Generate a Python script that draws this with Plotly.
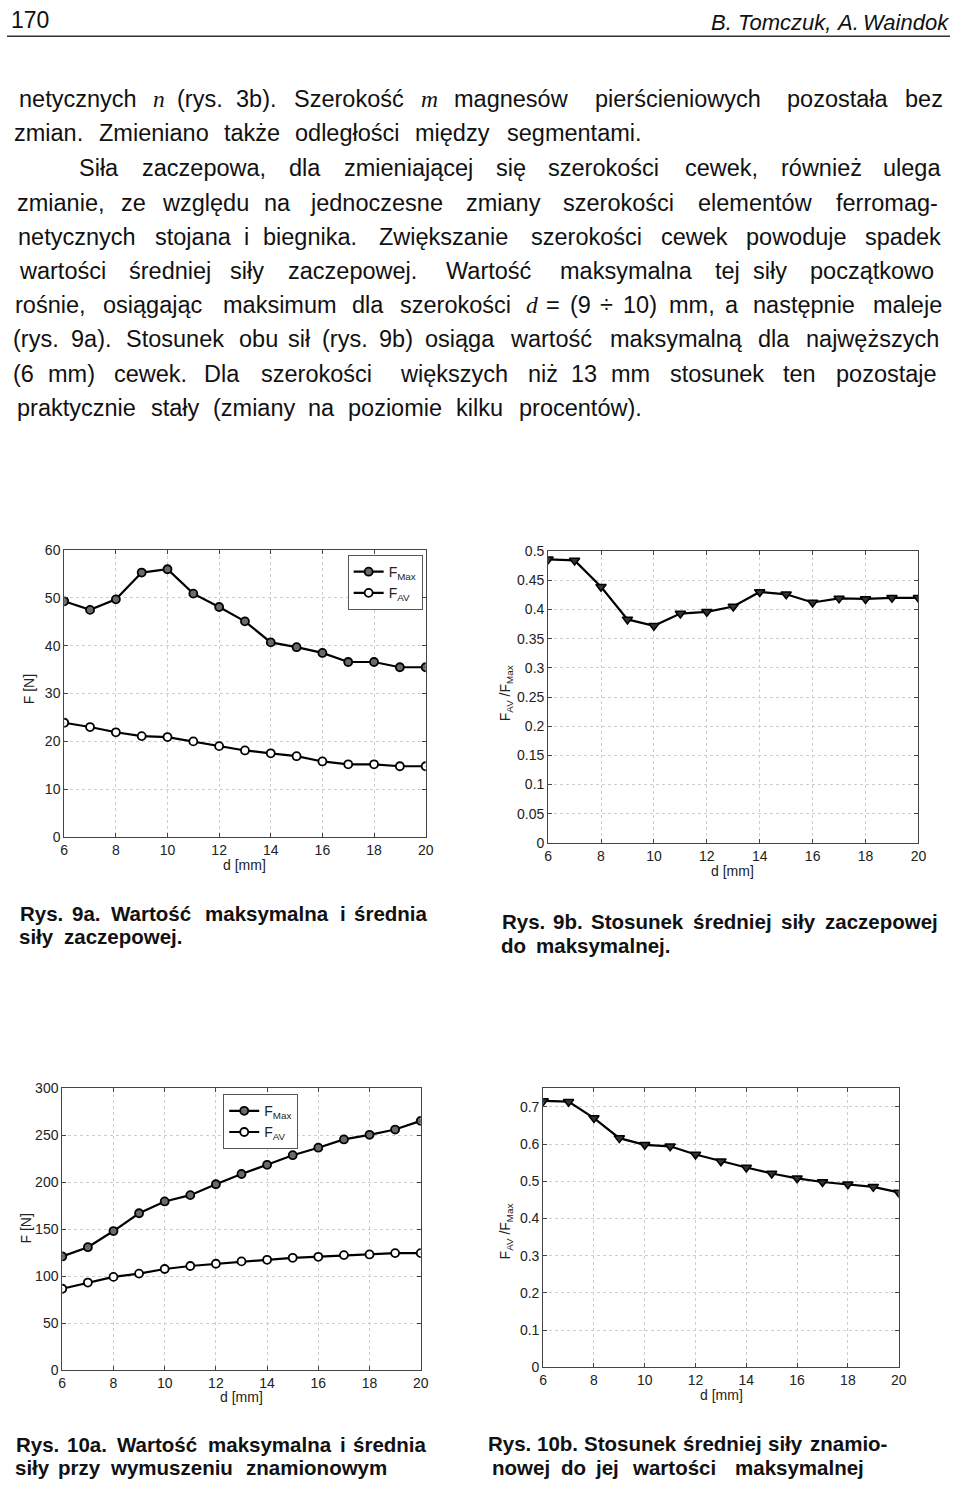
import plotly.graph_objects as go

W, H = 960, 1491

# ---------------- data ----------------
d_mm = [6, 7, 8, 9, 10, 11, 12, 13, 14, 15, 16, 17, 18, 19, 20]
f_max_9a = [49.3, 47.5, 49.7, 55.3, 56.0, 50.9, 48.1, 45.1, 40.7, 39.7, 38.5, 36.6, 36.6, 35.5, 35.5]
f_av_9a = [23.9, 23.0, 21.9, 21.1, 20.9, 20.0, 19.0, 18.1, 17.5, 16.9, 15.8, 15.2, 15.2, 14.8, 14.8]
ratio_9b = [0.486, 0.484, 0.439, 0.383, 0.372, 0.393, 0.396, 0.405, 0.430, 0.426, 0.412, 0.419, 0.418, 0.420, 0.420]
f_max_10a = [121.1, 130.9, 148.1, 167.0, 179.6, 186.3, 197.9, 208.8, 218.6, 228.8, 236.8, 245.6, 250.5, 256.1, 265.3]
f_av_10a = [86.7, 93.3, 99.3, 102.8, 107.7, 110.9, 113.3, 115.8, 117.5, 119.6, 120.7, 122.5, 123.2, 124.6, 124.6]
ratio_10b = [0.716, 0.714, 0.670, 0.616, 0.598, 0.594, 0.572, 0.554, 0.537, 0.521, 0.508, 0.498, 0.492, 0.485, 0.470]

x_ticks = [6, 8, 10, 12, 14, 16, 18, 20]
legend_labels = ["F<sub>Max</sub>", "F<sub>AV</sub>"]

FONT = "Liberation Sans, Arial, sans-serif"
SERIF = "Liberation Serif, Times New Roman, serif"

# ---------------- approximate glyph widths (em) ----------------
REG = {}
def _set(tbl, chars, w):
    for c in chars:
        tbl[c] = w
_set(REG, "abdeghnopqu0123456789ąęńóL", 0.556)
_set(REG, "cksvxyzśćżźJ", 0.5)
_set(REG, "ft .,/:;!I", 0.278)
_set(REG, "ijlł", 0.222)
_set(REG, "r()-", 0.333)
_set(REG, "mM", 0.833)
_set(REG, "wCDHNRUĆ", 0.722)
_set(REG, "ABEKPSVXYŚ", 0.667)
_set(REG, "FTZŻ", 0.611)
_set(REG, "GOQ", 0.778)
_set(REG, "W", 0.944)
_set(REG, "=+", 0.584)
_set(REG, "÷", 0.549)
BOLD = {}
_set(BOLD, "acekrsvxyśćąęż0123456789J", 0.556)
_set(BOLD, "bdghnopquńó", 0.611)
_set(BOLD, "ft", 0.333)
_set(BOLD, "ijlł .,", 0.278)
_set(BOLD, "r-", 0.389)
_set(BOLD, "z", 0.5)
_set(BOLD, "mM", 0.889)
_set(BOLD, "w", 0.778)
_set(BOLD, "RCDHNU", 0.722)
_set(BOLD, "SABEKPV", 0.667)
_set(BOLD, "W", 0.944)


def measure(word, bold=False, italic_serif=False):
    if italic_serif:
        return sum(0.72 if c == "m" else 0.5 for c in word)
    tbl = BOLD if bold else REG
    return sum(tbl.get(c, 0.556) for c in word)


annotations = []


def place_line(words, x0, x1, y, size, bold=False, italic=False, color="#111"):
    if isinstance(words, str):
        words = words.split()
    items = []
    for w in words:
        if isinstance(w, tuple):
            items.append((w[0], True))
        else:
            items.append((w, False))
    widths = [measure(t, bold, it) for t, it in items]
    total = sum(widths)
    n = len(items)
    space = 0.278
    em = (x1 - x0) / (total + space * (n - 1)) if n > 1 else size
    gap = space * em
    x = x0
    for (t, it), wd in zip(items, widths):
        if it:
            txt = "<i>" + t + "</i>"
            fam = SERIF
        else:
            txt = ("<b>" + t + "</b>") if bold else (("<i>" + t + "</i>") if italic else t)
            fam = FONT
        # centre each word inside its slot so that rounding errors spread evenly
        annotations.append(dict(
            x=(x + wd * em / 2) / W, y=1 - y / H, xref="paper", yref="paper",
            xanchor="center", yanchor="middle", showarrow=False,
            text=txt, font=dict(family=fam, size=size, color=color),
            borderpad=0,
        ))
        x += wd * em + gap


BODY = 23.5
body_lines = [
    (7, 954, 92.0, ["netycznych", ("n",), "(rys.", "3b).", "Szerokość", ("m",), "magnesów",
                    "pierścieniowych", "pozostała", "bez"]),
    (7, 652, 126.7, "zmian. Zmieniano także odległości między segmentami."),
    (72, 954, 162.0, "Siła zaczepowa, dla zmieniającej się szerokości cewek, również ulega"),
    (7, 954, 196.7, "zmianie, ze względu na jednoczesne zmiany szerokości elementów ferromag-"),
    (7, 954, 231.5, "netycznych stojana i biegnika. Zwiększanie szerokości cewek powoduje spadek"),
    (7, 954, 266.0, "wartości średniej siły zaczepowej. Wartość maksymalna tej siły początkowo"),
    (7, 954, 300.5, ["rośnie,", "osiągając", "maksimum", "dla", "szerokości", ("d",), "=", "(9", "÷",
                     "10)", "mm,", "a", "następnie", "maleje"]),
    (7, 954, 335.0, "(rys. 9a). Stosunek obu sił (rys. 9b) osiąga wartość maksymalną dla najwęższych"),
    (7, 954, 369.5, "(6 mm) cewek. Dla szerokości większych niż 13 mm stosunek ten pozostaje"),
    (7, 652, 404.0, "praktycznie stały (zmiany na poziomie kilku procentów)."),
]
for x0, x1, y, words in body_lines:
    place_line(words, x0, x1, y, BODY)

# header
annotations.append(dict(x=5 / W, y=1 - 12 / H, xref="paper", yref="paper", xanchor="left",
                        yanchor="middle", showarrow=False, text="170",
                        font=dict(family=FONT, size=23, color="#111")))
place_line("B. Tomczuk, A. Waindok", 716, 956, 15, 22, italic=True)

# captions
CAP = 20.5
place_line("Rys. 9a. Wartość maksymalna i  średnia", 14, 432, 915, CAP, bold=True)
place_line("siły zaczepowej.", 14, 185, 939, CAP, bold=True)
place_line("Rys. 9b. Stosunek średniej siły zaczepowej", 503, 948, 923, CAP, bold=True)
place_line("do maksymalnej.", 503, 677, 948, CAP, bold=True)
place_line("Rys. 10a. Wartość maksymalna i średnia", 11, 430, 1452, CAP, bold=True)
place_line("siły przy wymuszeniu znamionowym", 11, 392, 1475, CAP, bold=True)
place_line("Rys. 10b. Stosunek średniej siły znamio-", 490, 895, 1451, CAP, bold=True)
place_line("nowej do jej wartości maksymalnej", 490, 879, 1475, CAP, bold=True)

# ---------------- charts ----------------
fig = go.Figure()

panels = {
    1: dict(x=(61, 427), y=(548, 838), yr=[0, 60], dy=10),
    2: dict(x=(551, 926), y=(549, 844), yr=[0, 0.5], dy=0.05),
    3: dict(x=(59, 422), y=(1092, 1377), yr=[0, 300], dy=50),
    4: dict(x=(546, 906), y=(1092, 1374), yr=[0, 0.75], dy=0.1),
}

axis_common = dict(
    showline=True, linecolor="#444", linewidth=1, mirror="ticks",
    ticks="inside", ticklen=4, tickcolor="#444",
    showgrid=True, gridcolor="#cdcdcd", griddash="dot", gridwidth=1,
    zeroline=False, tickfont=dict(family=FONT, size=14, color="#222"),
)

layout_axes = {}
for i, p in panels.items():
    sx = "" if i == 1 else str(i)
    layout_axes["xaxis" + sx] = dict(
        domain=[p["x"][0] / W, p["x"][1] / W], range=[6, 20], tickvals=x_ticks,
        anchor="y" + sx, **axis_common)
    layout_axes["yaxis" + sx] = dict(
        domain=[1 - p["y"][1] / H, 1 - p["y"][0] / H], range=p["yr"], dtick=p["dy"],
        tick0=0, anchor="x" + sx, **axis_common)

line_style = dict(color="black", width=2.2)


def force_traces(y_max, y_av, sx, legend):
    fig.add_trace(go.Scatter(
        x=d_mm, y=y_max, mode="lines+markers", name=legend_labels[0],
        xaxis="x" + sx, yaxis="y" + sx, legend=legend, line=line_style,
        marker=dict(symbol="circle", size=8, color="#6a6a6a", line=dict(color="black", width=1.8))))
    fig.add_trace(go.Scatter(
        x=d_mm, y=y_av, mode="lines+markers", name=legend_labels[1],
        xaxis="x" + sx, yaxis="y" + sx, legend=legend, line=line_style,
        marker=dict(symbol="circle", size=8, color="white", line=dict(color="black", width=1.8))))


def ratio_trace(vals, sx):
    fig.add_trace(go.Scatter(
        x=d_mm, y=vals, mode="lines+markers", showlegend=False,
        xaxis="x" + sx, yaxis="y" + sx, line=line_style,
        marker=dict(symbol="triangle-down", size=9, color="#333",
                    line=dict(color="black", width=1.5))))


force_traces(f_max_9a, f_av_9a, "", "legend")
ratio_trace(ratio_9b, "2")
force_traces(f_max_10a, f_av_10a, "3", "legend2")
ratio_trace(ratio_10b, "4")


def title(text, x, y, angle=0):
    annotations.append(dict(x=x / W, y=1 - y / H, xref="paper", yref="paper",
                            xanchor="center", yanchor="middle", showarrow=False,
                            text=text, textangle=angle,
                            font=dict(family=FONT, size=14, color="#222")))


ratio_title = "F<sub>AV</sub> /F<sub>Max</sub>"
title("d [mm]", 244, 866)
title("F [N]", 25, 689, -90)
title("d [mm]", 738, 872)
title(ratio_title, 508, 693, -90)
title("d [mm]", 240, 1404)
title("F [N]", 22, 1234, -90)
title("d [mm]", 727, 1402)
title(ratio_title, 508, 1237, -90)

legend_style = dict(
    bgcolor="white", bordercolor="#555", borderwidth=1,
    font=dict(family=FONT, size=14, color="#222"),
    xanchor="left", yanchor="top", tracegroupgap=0, itemwidth=30,
)

fig.update_layout(
    width=W, height=H, margin=dict(l=0, r=0, t=0, b=0),
    paper_bgcolor="white", plot_bgcolor="white",
    showlegend=True,
    legend=dict(x=348 / W, y=1 - 553 / H, **legend_style),
    legend2=dict(x=222 / W, y=1 - 1098 / H, **legend_style),
    annotations=annotations,
    shapes=[dict(type="line", xref="paper", yref="paper", x0=3 / W, x1=958 / W,
                 y0=1 - 28.5 / H, y1=1 - 28.5 / H, line=dict(color="#333", width=1.5))],
    **layout_axes,
)

fig.write_html("out.html")
